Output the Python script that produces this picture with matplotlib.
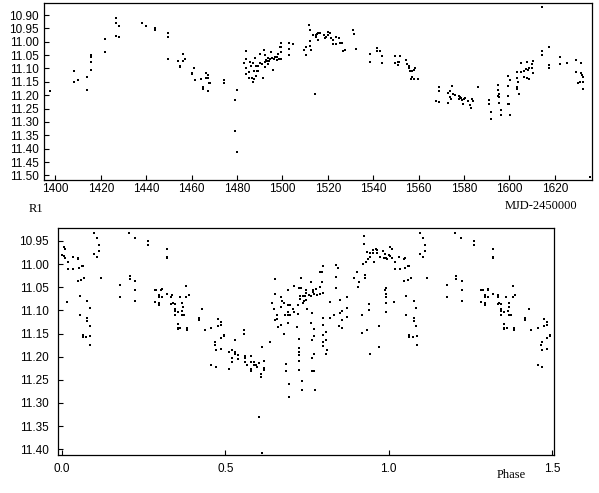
"""Light curve of R1: magnitude vs. MJD (top) and folded by phase (bottom)."""

import matplotlib
matplotlib.use("Agg")
import matplotlib.pyplot as plt
import numpy as np

# ---- top panel: MJD-2450000 vs magnitude ----
mjd = [
    1397.6, 1408.4, 1408.4, 1409.9, 1413.7, 1413.7, 1415.5, 1415.5, 1415.5, 1415.5,
    1421.7, 1421.7, 1426.7, 1426.7, 1427.9, 1426.7, 1427.9, 1438.0, 1439.7, 1443.8,
    1443.8, 1449.8, 1449.8, 1449.8, 1453.8, 1454.8, 1454.8, 1456.0, 1456.0, 1456.9,
    1460.1, 1460.1, 1460.9, 1461.7, 1464.0, 1464.8, 1464.8, 1466.2, 1466.2, 1467.0,
    1467.0, 1467.0, 1467.6, 1468.2, 1474.1, 1474.1,
    1479.1, 1480.0, 1479.1, 1480.0, 1483.0, 1483.8, 1483.8, 1483.8, 1484.0, 1485.1,
    1485.2, 1485.9, 1486.3, 1486.4, 1486.9, 1487.0, 1487.6, 1487.6, 1488.0, 1488.2,
    1488.3, 1488.8, 1489.1, 1489.2, 1490.1, 1490.2, 1491.1, 1491.4, 1492.1, 1492.2,
    1492.2, 1492.4, 1492.8, 1493.4, 1493.5, 1493.8, 1494.1, 1494.4, 1495.1, 1495.4,
    1496.0, 1496.5, 1496.8, 1497.4, 1497.5, 1497.9, 1498.6, 1498.9, 1499.2, 1499.3,
    1499.2, 1499.3, 1503.1, 1503.1, 1503.1, 1504.5, 1509.3, 1510.2, 1510.2, 1511.8,
    1512.0, 1512.1, 1512.1, 1512.6, 1513.5, 1514.2, 1514.6, 1514.8, 1515.3, 1515.8,
    1515.6, 1516.5, 1518.3, 1518.6, 1519.4, 1520.2, 1520.2, 1521.1, 1521.3, 1522.1,
    1522.2, 1523.5, 1523.5, 1525.1, 1525.3, 1526.3, 1526.6, 1527.5, 1531.3, 1531.5,
    1532.2, 1538.4, 1538.4, 1541.6, 1541.6, 1543.1, 1543.7, 1543.7, 1549.6, 1549.7,
    1550.7, 1550.9, 1551.3, 1551.7, 1554.5, 1554.8, 1555.6, 1555.7, 1556.0, 1556.6,
    1557.2, 1556.9, 1557.8, 1557.8, 1558.3, 1559.7,
    1567.5, 1568.8, 1568.8, 1568.9, 1572.8, 1572.9, 1573.6, 1573.8, 1574.2, 1574.9,
    1575.2, 1575.8, 1577.6, 1577.9, 1578.3, 1578.7, 1579.2, 1579.6, 1579.9, 1580.6,
    1581.7, 1582.8, 1583.2, 1583.7, 1584.0, 1586.1, 1590.8, 1590.9, 1591.7, 1591.9,
    1594.8, 1594.8, 1594.9, 1595.2, 1595.2, 1595.4, 1596.1, 1596.3, 1599.2, 1599.4,
    1599.2, 1599.4, 1599.9, 1600.1, 1600.1, 1603.3, 1603.3, 1603.2, 1603.5, 1603.9,
    1604.0, 1604.9, 1605.1, 1606.3, 1606.4, 1607.2, 1607.9, 1607.9, 1608.2, 1608.6,
    1608.8, 1609.8, 1610.1, 1610.4, 1610.4, 1614.2, 1614.2, 1614.2, 1617.3, 1617.3,
    1617.3, 1622.1, 1622.1, 1625.2, 1629.2, 1629.2, 1630.1, 1631.0, 1631.4, 1631.6,
    1631.9, 1632.2, 1632.4, 1632.4, 1635.6,
]
mag = [
    11.184, 11.109, 11.150, 11.144, 11.131, 11.180, 11.048, 11.058, 11.075, 11.105,
    10.989, 11.038, 10.910, 10.931, 10.940, 10.978, 10.981, 10.929, 10.940, 10.950,
    10.955, 10.966, 10.984, 11.065, 11.073, 11.089, 11.094, 11.073, 11.045, 11.065,
    11.116, 11.121, 11.098, 11.143, 11.141, 11.169, 11.176, 11.116, 11.134, 11.126,
    11.135, 11.184, 11.156, 11.156, 11.143, 11.154,
    11.218, 11.180, 11.334, 11.413, 11.081, 11.035, 11.063, 11.098, 11.119, 11.113,
    11.134, 11.076, 11.089, 11.135, 11.150, 11.081, 11.109, 11.140, 11.059, 11.089,
    11.129, 11.109, 11.091, 11.110, 11.045, 11.081, 11.085, 11.136, 11.031, 11.051,
    11.075, 11.095, 11.068, 11.073, 11.085, 11.059, 11.071, 11.064, 11.039, 11.059,
    11.105, 11.064, 11.056, 11.056, 11.069, 11.046, 11.065, 11.019, 11.019, 11.004,
    11.038, 11.064, 11.003, 11.026, 11.049, 11.008, 11.031, 11.021, 11.049, 10.938,
    10.956, 10.996, 11.015, 11.031, 10.976, 11.196, 10.974, 10.981, 10.970, 10.968,
    10.994, 10.969, 10.973, 10.985, 10.981, 10.964, 10.976, 10.969, 10.986, 10.993,
    11.010, 10.984, 11.008, 10.985, 11.006, 11.005, 11.034, 11.030, 10.956, 10.970,
    11.026, 11.045, 11.075, 11.024, 11.033, 11.034, 11.054, 11.078, 11.053, 11.081,
    11.074, 11.086, 11.074, 11.054, 11.069, 11.084, 11.089, 11.100, 11.111, 11.141,
    11.109, 11.131, 11.106, 11.141, 11.100, 11.141,
    11.220, 11.170, 11.184, 11.225, 11.229, 11.191, 11.185, 11.206, 11.214, 11.166,
    11.194, 11.201, 11.203, 11.214, 11.208, 11.210, 11.219, 11.233, 11.213, 11.211,
    11.221, 11.236, 11.248, 11.213, 11.221, 11.170, 11.219, 11.234, 11.264, 11.289,
    11.163, 11.181, 11.203, 11.194, 11.205, 11.229, 11.254, 11.275, 11.129, 11.165,
    11.204, 11.233, 11.234, 11.275, 11.144, 11.115, 11.134, 11.168, 11.178, 11.151,
    11.196, 11.079, 11.113, 11.109, 11.131, 11.103, 11.075, 11.136, 11.105, 11.100,
    11.139, 11.083, 11.099, 11.073, 11.116, 10.869, 11.035, 11.048, 11.019, 11.088,
    11.098, 11.056, 11.085, 11.079, 11.069, 11.113, 11.156, 11.152, 11.079, 11.116,
    11.123, 11.131, 11.176, 11.152, 11.506,
]

# ---- bottom panel: phase (0..1) vs magnitude ----
phase = [
    0.004, 0.010, 0.000, 0.005, 0.010, 0.019, 0.032, 0.049, 0.048, 0.060,
    0.063, 0.019, 0.033, 0.050, 0.047, 0.059, 0.068, 0.016, 0.053, 0.076,
    0.084, 0.053, 0.076, 0.076, 0.084, 0.063, 0.063, 0.074, 0.085, 0.085,
    0.097, 0.106, 0.112, 0.112, 0.097, 0.106, 0.118, 0.204, 0.222, 0.262,
    0.262, 0.320, 0.320, 0.320, 0.177, 0.177, 0.207, 0.207, 0.224, 0.224,
    0.224, 0.283, 0.288, 0.296, 0.305, 0.304, 0.296, 0.305, 0.283, 0.295,
    0.295, 0.320, 0.335, 0.333, 0.360, 0.334, 0.338, 0.344, 0.345, 0.345,
    0.354, 0.345, 0.354, 0.354, 0.354,
    0.367, 0.369, 0.366, 0.367, 0.373, 0.379, 0.379, 0.387, 0.362, 0.382,
    0.382, 0.418, 0.418, 0.428, 0.437, 0.457, 0.476, 0.476, 0.485, 0.486,
    0.495, 0.495, 0.486, 0.468, 0.467, 0.470, 0.486, 0.457, 0.470, 0.529,
    0.510, 0.519, 0.529, 0.529, 0.537, 0.519, 0.519, 0.537, 0.510, 0.556,
    0.556, 0.559, 0.559, 0.559, 0.567, 0.567, 0.578, 0.578, 0.578, 0.578,
    0.586, 0.586, 0.594, 0.596, 0.602, 0.608, 0.608, 0.617, 0.617, 0.617,
    0.611, 0.636, 0.602, 0.611, 0.651, 0.651, 0.642, 0.650, 0.651, 0.659,
    0.659, 0.671, 0.673, 0.678, 0.670, 0.682, 0.690, 0.691, 0.690, 0.699,
    0.699, 0.690, 0.709, 0.725, 0.708, 0.709, 0.721, 0.722, 0.720, 0.670,
    0.662, 0.678, 0.691, 0.724, 0.724, 0.724, 0.724, 0.724, 0.724, 0.685,
    0.685, 0.694, 0.694,
    0.731, 0.731, 0.729, 0.729, 0.738, 0.738, 0.739, 0.747, 0.747, 0.745,
    0.748, 0.749, 0.755, 0.761, 0.761, 0.767, 0.769, 0.772, 0.778, 0.780,
    0.789, 0.790, 0.788, 0.797, 0.798, 0.797, 0.798, 0.766, 0.763, 0.770,
    0.770, 0.766, 0.770, 0.764, 0.764, 0.770, 0.773, 0.734, 0.734, 0.800,
    0.800, 0.800, 0.809, 0.800, 0.800, 0.809, 0.812, 0.809, 0.821, 0.821,
    0.831, 0.837, 0.846, 0.837, 0.837, 0.850, 0.850, 0.849, 0.857, 0.857,
    0.858, 0.871, 0.871, 0.871, 0.893, 0.904, 0.906, 0.908, 0.921, 0.923,
    0.923, 0.926, 0.926, 0.930, 0.934, 0.935, 0.943, 0.943, 0.952, 0.954,
    0.951, 0.960, 0.965, 0.964, 0.973, 0.983, 0.989, 0.984, 0.990, 0.995,
    0.919, 0.919, 0.934, 0.939, 0.938, 0.944, 0.969, 0.969, 0.988, 0.991,
    0.990, 0.991, 0.990, 0.991,
]
phase_mag = [
    10.964, 10.967, 10.980, 10.982, 10.987, 10.995, 10.984, 10.986, 10.990, 11.005,
    11.003, 11.011, 11.010, 11.009, 11.036, 11.034, 11.031, 11.081, 11.068, 11.079,
    11.094, 11.111, 11.116, 11.124, 11.133, 11.153, 11.157, 11.157, 11.155, 11.174,
    10.932, 10.944, 10.958, 10.971, 10.978, 10.985, 11.029, 10.932, 10.944, 10.949,
    10.958, 10.967, 10.984, 10.986, 11.045, 11.072, 11.026, 11.033, 11.036, 11.056,
    11.080, 11.056, 11.056, 11.067, 11.053, 11.057, 11.072, 11.072, 11.081, 11.085,
    11.088, 11.064, 11.067, 11.072, 11.072, 11.087, 11.085, 11.086, 11.098, 11.101,
    11.103, 11.111, 11.129, 11.138, 11.140,
    11.085, 11.093, 11.101, 11.110, 11.111, 11.047, 11.070, 11.067, 11.139, 11.139,
    11.142, 11.116, 11.120, 11.098, 11.143, 11.139, 11.119, 11.133, 11.125, 11.132,
    11.153, 11.156, 11.160, 11.168, 11.175, 11.186, 11.183, 11.219, 11.222, 11.164,
    11.190, 11.186, 11.189, 11.194, 11.197, 11.202, 11.211, 11.204, 11.227, 11.142,
    11.151, 11.199, 11.202, 11.212, 11.217, 11.219, 11.199, 11.211, 11.227, 11.230,
    11.211, 11.219, 11.218, 11.222, 11.214, 11.238, 11.245, 11.209, 11.224, 11.229,
    11.179, 11.168, 11.330, 11.408, 11.033, 11.064, 11.083, 11.096, 11.121, 11.111,
    11.118, 11.072, 11.080, 11.084, 11.093, 11.111, 11.111, 11.103, 11.088, 11.088,
    11.111, 11.056, 11.047, 11.052, 11.097, 11.104, 11.088, 11.108, 11.135, 11.132,
    11.135, 11.150, 11.127, 11.161, 11.182, 11.189, 11.196, 11.209, 11.229, 11.215,
    11.232, 11.259, 11.287,
    11.029, 11.052, 11.069, 11.075, 11.068, 11.085, 11.080, 11.057, 11.062, 11.068,
    11.078, 11.096, 11.067, 11.038, 11.068, 11.061, 11.057, 11.065, 11.054, 11.067,
    11.065, 11.049, 11.018, 11.018, 11.004, 11.038, 11.063, 11.105, 11.127, 11.140,
    11.156, 11.165, 11.194, 11.202, 11.230, 11.232, 11.273, 11.252, 11.272, 11.116,
    11.132, 11.154, 11.147, 11.168, 11.176, 11.164, 11.186, 11.194, 11.081, 11.116,
    11.110, 11.002, 11.008, 11.027, 11.051, 11.077, 11.105, 11.134, 11.101, 11.137,
    11.121, 11.071, 11.094, 11.114, 11.029, 11.018, 11.050, 11.038, 11.000, 10.939,
    10.956, 11.023, 11.029, 10.995, 10.973, 10.990, 10.984, 10.977, 10.969, 10.995,
    10.977, 10.968, 10.969, 10.975, 10.985, 10.972, 10.979, 10.987, 10.987, 10.989,
    11.110, 11.148, 11.143, 11.086, 11.099, 11.194, 11.133, 11.179, 11.056, 11.052,
    11.064, 11.072, 11.085, 11.103,
]

top_xticks = [1400, 1420, 1440, 1460, 1480, 1500, 1520, 1540, 1560, 1580, 1600, 1620]
top_yticks = [10.90, 10.95, 11.00, 11.05, 11.10, 11.15, 11.20, 11.25, 11.30, 11.35,
              11.40, 11.45, 11.50]
bot_xticks = [0.0, 0.5, 1.0, 1.5]
bot_yticks = [10.95, 11.00, 11.05, 11.10, 11.15, 11.20, 11.25, 11.30, 11.35, 11.40]

plt.rcParams["font.family"] = ["Liberation Sans", "DejaVu Sans"]

W, H = 599, 493
fig = plt.figure(figsize=(W / 100, H / 100), dpi=100)


def axes_px(left, top, right, bottom):
    return fig.add_axes([left / W, 1 - bottom / H, (right - left) / W, (bottom - top) / H])


dot = dict(marker="s", ms=1.7, mew=0, ls="none", color="black")

ax1 = axes_px(44.3, 2.7, 592.3, 180)
ax1.plot(mjd, mag, **dot)
ax1.set_xlim(1395.1, 1636.5)
ax1.set_ylim(11.517, 10.854)
ax1.set_xticks(top_xticks)
ax1.set_yticks(top_yticks)
ax1.set_yticklabels([f"{v:.2f}" for v in top_yticks])
ax1.tick_params(axis="both", direction="in", length=3.5, width=0.8, labelsize=8.5)
ax1.tick_params(axis="y", pad=4)
ax1.tick_params(axis="x", pad=2.5)

ax2 = axes_px(58.3, 228.3, 554, 455)
ph = np.array(phase)
pm = np.array(phase_mag)
extra = ph + 1 <= 1.5
ax2.plot(np.concatenate([ph, ph[extra] + 1]), np.concatenate([pm, pm[extra]]), **dot)
ax2.set_xlim(-0.012, 1.506)
ax2.set_ylim(11.4125, 10.9226)
ax2.set_xticks(bot_xticks)
ax2.set_xticklabels([f"{v:.1f}" for v in bot_xticks])
ax2.set_yticks(bot_yticks)
ax2.set_yticklabels([f"{v:.2f}" for v in bot_yticks])
ax2.tick_params(axis="both", direction="in", length=3.5, width=0.8, labelsize=8.5)
ax2.tick_params(axis="y", pad=7)
ax2.tick_params(axis="x", pad=6)

for ax in (ax1, ax2):
    for s in ax.spines.values():
        s.set_linewidth(0.9)

serif = dict(family=["Liberation Serif", "DejaVu Serif"], fontsize=9)
fig.text(36 / W, 1 - 209 / H, "R1", ha="center", va="center", **serif)
fig.text(577 / W, 1 - 206 / H, "MJD-2450000", ha="right", va="center", **serif)
fig.text(511 / W, 1 - 475 / H, "Phase", ha="center", va="center", **serif)

fig.savefig("out.png", dpi=100)
